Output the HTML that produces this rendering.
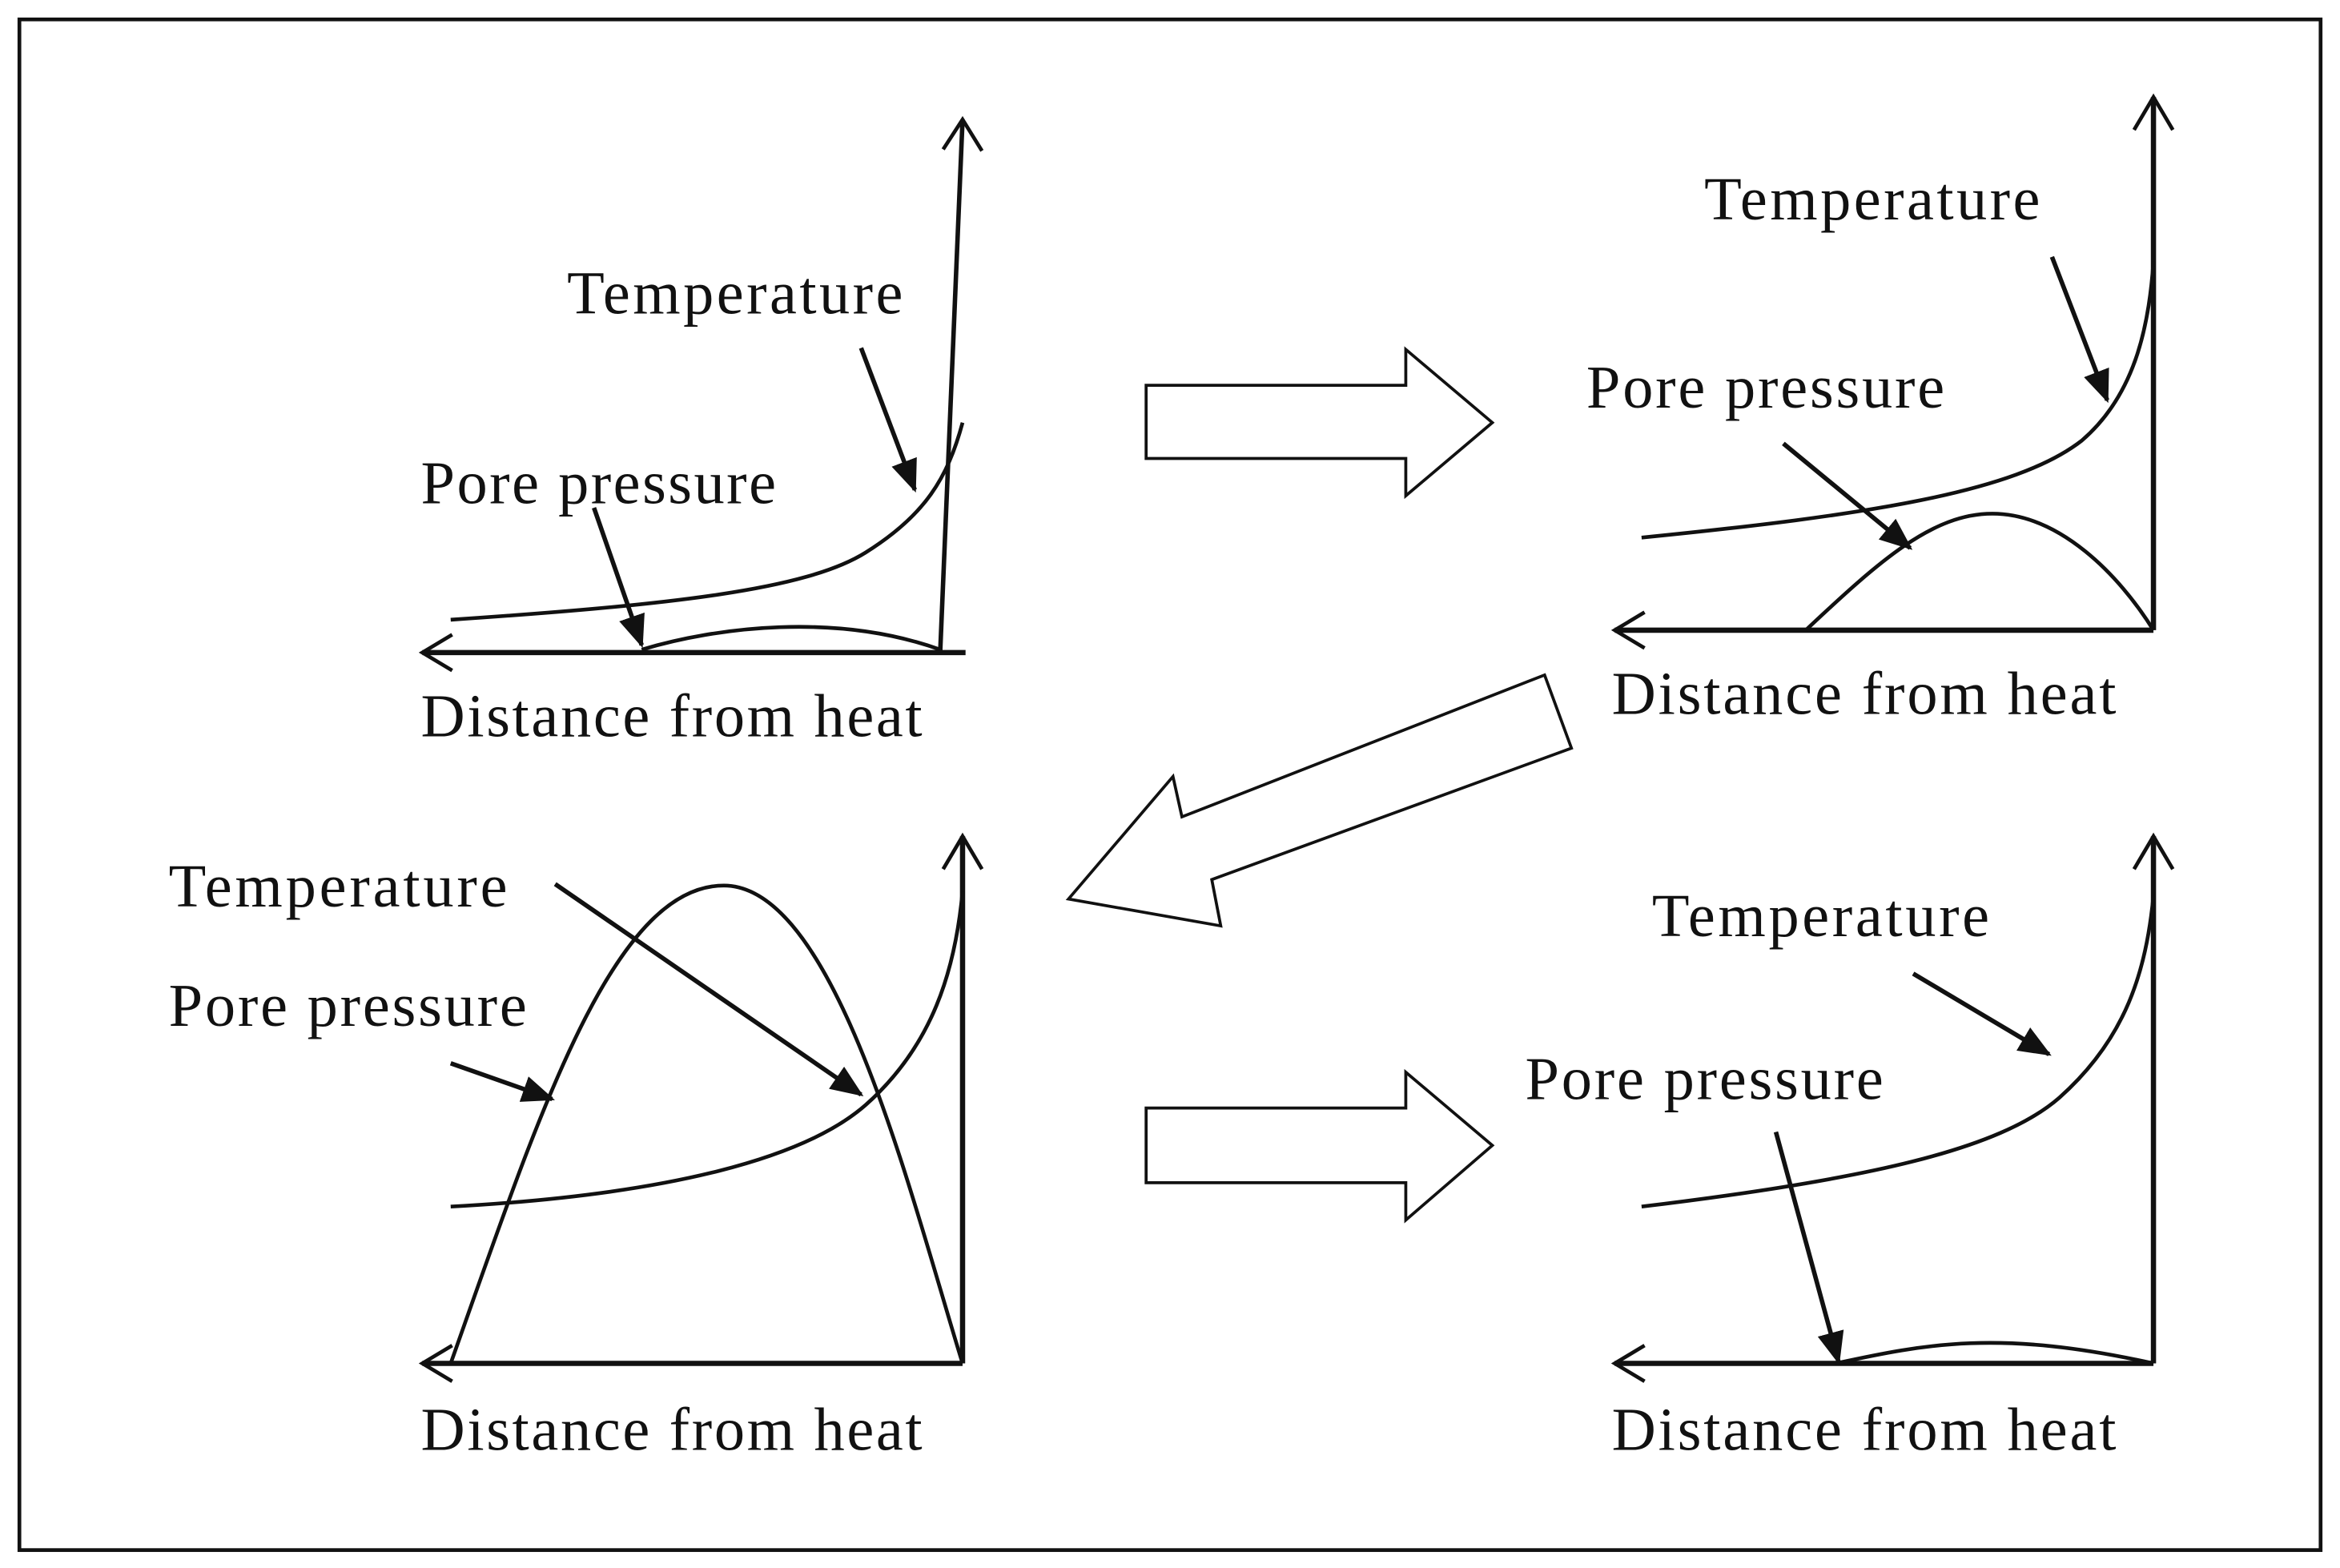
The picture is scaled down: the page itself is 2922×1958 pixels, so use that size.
<!DOCTYPE html>
<html><head><meta charset="utf-8"><style>
html,body{margin:0;padding:0;background:#fff;}
svg{display:block;}
text{font-family:"Liberation Serif",serif;font-size:41px;fill:#111;}
</style></head><body>
<svg width="2922" height="1958" viewBox="0 0 1568 1050" preserveAspectRatio="none" xmlns="http://www.w3.org/2000/svg">
<defs>
<marker id="ah" markerWidth="22" markerHeight="18" refX="20" refY="9" orient="auto" markerUnits="userSpaceOnUse" viewBox="0 0 22 18">
<path d="M0,0 L22,9 L0,18 Z" fill="#111"/>
</marker>
</defs>
<rect x="13" y="13" width="1542" height="1025" fill="none" stroke="#111" stroke-width="2.5"/>
<g fill="none" stroke="#111" stroke-width="2.5">
<line x1="283" y1="437" x2="647" y2="437" stroke-width="3.5"/>
<polyline points="303,425 283,437 303,449"/>
<line x1="630" y1="437" x2="645" y2="80" stroke-width="3"/>
<polyline points="632,100 645,80 658,101"/>
<path d="M302,415 C450,405 540,395 580,370 C620,345 635,320 645,283"/>
<path d="M430,435 C480,420 560,410 630,435"/>
<line x1="1082" y1="422" x2="1443" y2="422" stroke-width="3.5"/>
<polyline points="1102,410 1082,422 1102,434"/>
<line x1="1443" y1="422" x2="1443" y2="65" stroke-width="3.5"/>
<polyline points="1430,87 1443,65 1456,87"/>
<path d="M1100,360 C1250,345 1350,330 1395,295 C1430,265 1440,220 1443,175"/>
<path d="M1210,422 C1260,375 1295,344 1335,344 C1380,344 1420,385 1443,422"/>
<line x1="283" y1="913" x2="645" y2="913" stroke-width="3.5"/>
<polyline points="303,901 283,913 303,925"/>
<line x1="645" y1="913" x2="645" y2="560" stroke-width="3.5"/>
<polyline points="632,582 645,560 658,582"/>
<path d="M302,808 C450,800 540,775 580,740 C625,700 640,650 645,597"/>
<path d="M302,913 C360,750 410,593 485,593 C560,593 610,800 645,913"/>
<line x1="1082" y1="913" x2="1443" y2="913" stroke-width="3.5"/>
<polyline points="1102,901 1082,913 1102,925"/>
<line x1="1443" y1="913" x2="1443" y2="560" stroke-width="3.5"/>
<polyline points="1430,582 1443,560 1456,582"/>
<path d="M1100,808 C1250,790 1340,770 1380,735 C1425,695 1438,650 1443,600"/>
<path d="M1230,913 C1290,900 1340,890 1443,913"/>
<polygon points="768,258 942,258 942,234 1000,283 942,332 942,307 768,307" stroke-width="2"/>
<polygon points="768,742 942,742 942,718 1000,767 942,817 942,792 768,792" stroke-width="2"/>
<polygon points="1035,452 1053,501 812,589 818,620 716,602 786,520 792,547" stroke-width="2"/>
</g>
<g stroke="#111" stroke-width="3" fill="none">
<line x1="577" y1="233" x2="613" y2="328" marker-end="url(#ah)"/>
<line x1="398" y1="340" x2="430" y2="432" marker-end="url(#ah)"/>
<line x1="1375" y1="172" x2="1412" y2="268" marker-end="url(#ah)"/>
<line x1="1195" y1="297" x2="1280" y2="367" marker-end="url(#ah)"/>
<line x1="372" y1="592" x2="577" y2="733" marker-end="url(#ah)"/>
<line x1="302" y1="712" x2="370" y2="736" marker-end="url(#ah)"/>
<line x1="1282" y1="652" x2="1373" y2="706" marker-end="url(#ah)"/>
<line x1="1190" y1="758" x2="1232" y2="912" marker-end="url(#ah)"/>
</g>
<text x="380" y="210" textLength="225">Temperature</text>
<text x="282" y="337" textLength="238">Pore pressure</text>
<text x="282" y="493" textLength="336">Distance from heat</text>
<text x="1142" y="147" textLength="225">Temperature</text>
<text x="1063" y="273" textLength="240">Pore pressure</text>
<text x="1080" y="478" textLength="338">Distance from heat</text>
<text x="113" y="607" textLength="227">Temperature</text>
<text x="113" y="687" textLength="240">Pore pressure</text>
<text x="282" y="971" textLength="336">Distance from heat</text>
<text x="1107" y="627" textLength="226">Temperature</text>
<text x="1022" y="736" textLength="240">Pore pressure</text>
<text x="1080" y="971" textLength="338">Distance from heat</text>
</svg>
</body></html>
